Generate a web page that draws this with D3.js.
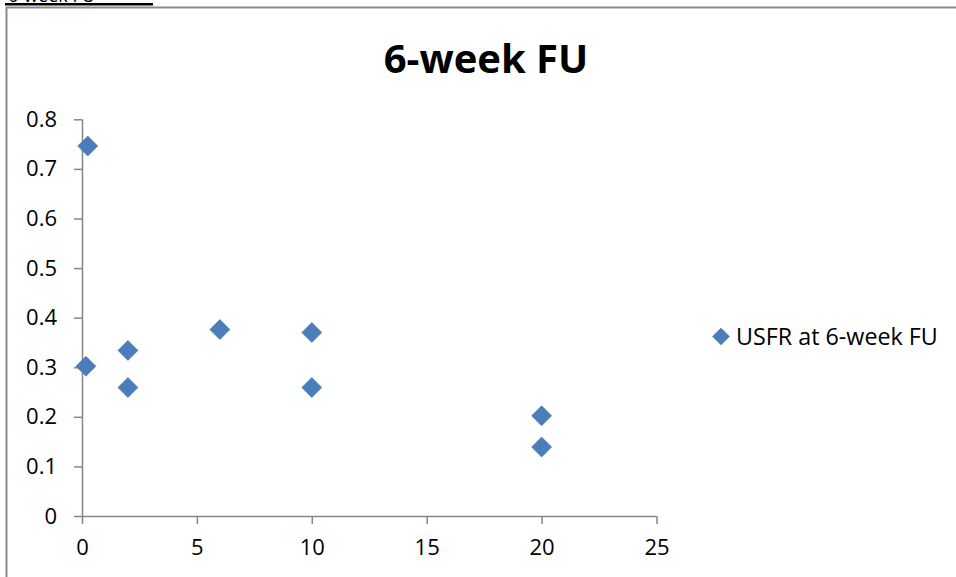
<!DOCTYPE html>
<html>
<head>
<meta charset="utf-8">
<script src="https://cdn.jsdelivr.net/npm/d3@7"></script>
<style>
  html, body { margin: 0; padding: 0; background: #fff; }
  svg { display: block; }
  text { font-family: "Open Sans", "Liberation Sans", Arial, sans-serif; fill: #000; }
</style>
</head>
<body>
<svg id="chart" width="956" height="577"></svg>
<script>
// Follow-up data: dose (x) against USFR at 6 weeks (y)
const doseValues = [0.25, 0.17, 2, 2, 6, 10, 10, 20, 20];
const usfrValues = [0.746, 0.302, 0.334, 0.259, 0.376, 0.370, 0.259, 0.202, 0.139];
const xTicks = [0, 5, 10, 15, 20, 25];
const yTicks = [0, 0.1, 0.2, 0.3, 0.4, 0.5, 0.6, 0.7, 0.8];
const seriesName = "USFR at 6-week FU";
const chartTitle = "6-week FU";

const points = doseValues.map((d, i) => ({ x: d, y: usfrValues[i] }));

const svg = d3.select("#chart");
const axisColor = "#868686";
const markColor = "#4a7ebb";
const fontStack = "'Open Sans', 'Liberation Sans', Arial, sans-serif";

// Heading line above the chart frame (runs off the top edge)
svg.append("text")
  .attr("x", 8).attr("y", 1.5)
  .attr("font-size", 18)
  .text(chartTitle);
svg.append("rect")
  .attr("x", 5).attr("y", 3).attr("width", 148).attr("height", 2.5)
  .attr("fill", "#000");

// Chart frame
svg.append("path")
  .attr("d", "M6.5,577 L6.5,7.5 L956,7.5")
  .attr("fill", "none")
  .attr("stroke", "#8a8a8a")
  .attr("stroke-width", 2);

const x = d3.scaleLinear().domain([0, 25]).range([82, 656.5]);
const y = d3.scaleLinear().domain([0, 0.8]).range([516, 119.3]);

// Title
svg.append("text")
  .attr("x", 486).attr("y", 73)
  .attr("text-anchor", "middle")
  .attr("font-size", 40)
  .attr("font-weight", "bold")
  .text(chartTitle);

// Axes
const xAxis = d3.axisBottom(x).tickValues(xTicks).tickSize(8).tickPadding(15)
  .tickFormat(d3.format("d"));
const yAxis = d3.axisLeft(y).tickValues(yTicks).tickSize(8).tickPadding(17)
  .tickFormat(d => d === 0 ? "0" : d3.format(".1f")(d));

const gx = svg.append("g").attr("transform", `translate(0,${y(0)})`).call(xAxis);
const gy = svg.append("g").attr("transform", `translate(${x(0)},0)`).call(yAxis);

[gx, gy].forEach(g => {
  g.attr("font-size", 22).attr("font-family", fontStack);
  g.select(".domain").attr("stroke", axisColor).attr("stroke-width", 1.5);
  g.selectAll(".tick line").attr("stroke", axisColor).attr("stroke-width", 1.5);
  g.selectAll(".tick text").attr("fill", "#000");
});
// Plain axis lines without outer ticks
gx.select(".domain").attr("d", `M${x(0)},0.5H${x(25)}`);
gy.select(".domain").attr("d", `M0.5,${y(0)}V${y(0.8)}`);

// Diamond markers
const diamond = d3.symbol().type(d3.symbolSquare).size(200);
svg.append("g")
  .selectAll("path")
  .data(points)
  .join("path")
  .attr("d", diamond)
  .attr("transform", d => `translate(${x(d.x)},${y(d.y)}) rotate(45)`)
  .attr("fill", markColor)
  .attr("stroke", "#4577b2")
  .attr("stroke-width", 0.6);

// Legend
const legend = svg.append("g").attr("transform", "translate(721,336.5)");
legend.append("path")
  .attr("d", d3.symbol().type(d3.symbolSquare).size(155))
  .attr("transform", "rotate(45)")
  .attr("fill", markColor);
legend.append("text")
  .attr("x", 15).attr("y", 8)
  .attr("font-size", 23.3)
  .text(seriesName);
</script>
</body>
</html>
